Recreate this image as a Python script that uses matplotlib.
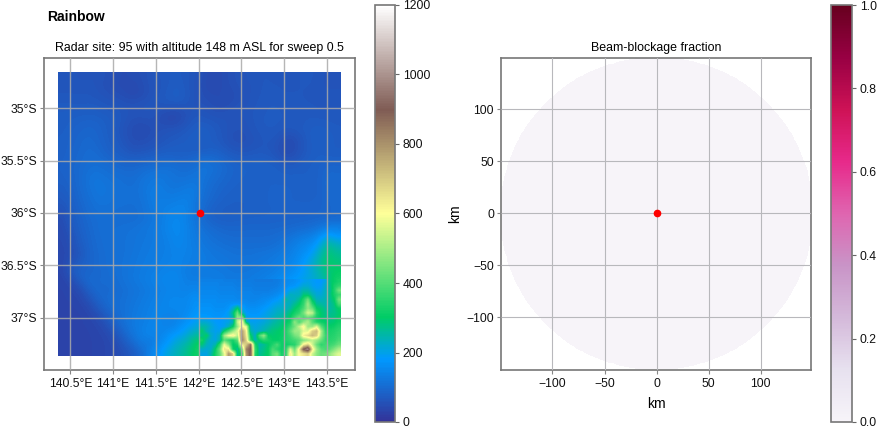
import numpy as np
import matplotlib
matplotlib.use("Agg")
import matplotlib.pyplot as plt

plt.rcParams['font.family'] = ['Liberation Sans', 'DejaVu Sans']

# terrain height in metres on a coarse grid, north to south
dem = [
    [62,62,60,60,62,55,50,45,50,52,60,66,70,72,68,62,50,42,45,55,58,62,64,66,62,62,64,66,68,62,60,58],
    [62,62,62,62,60,52,46,44,42,50,58,64,70,76,68,60,46,42,46,52,58,60,62,68,66,64,64,66,66,62,60,60],
    [66,66,66,66,62,58,54,48,42,48,58,66,74,80,70,60,50,46,48,48,54,60,64,68,70,66,66,66,64,62,62,62],
    [70,70,68,70,68,64,62,58,56,60,64,68,70,72,68,60,54,50,44,50,56,60,66,70,70,68,68,66,66,64,64,64],
    [76,76,76,78,76,72,70,64,60,62,62,54,48,46,56,62,64,56,56,60,62,64,68,70,72,70,68,68,68,66,66,66],
    [76,80,84,86,84,78,72,62,54,52,56,50,42,44,58,70,68,66,62,60,58,62,68,72,72,70,70,68,72,72,70,68],
    [78,84,88,92,88,80,70,58,48,46,50,56,60,62,68,76,80,72,66,58,56,60,66,70,70,66,66,70,76,78,76,72],
    [80,86,92,96,90,82,72,60,50,48,54,60,66,70,76,80,80,74,66,56,50,56,62,68,66,52,48,62,76,80,78,74],
    [80,88,94,100,94,84,76,66,56,58,62,68,74,78,76,70,72,78,72,62,60,60,64,66,60,46,44,60,74,80,76,74],
    [82,90,96,102,100,90,84,76,72,74,78,84,86,80,82,90,96,94,88,76,70,70,74,72,66,52,52,66,76,80,78,78],
    [84,92,98,106,108,102,98,92,92,96,100,104,108,104,100,104,116,110,100,92,86,84,84,84,80,72,72,76,80,84,90,90],
    [84,90,100,112,116,110,106,102,100,110,118,120,118,110,108,116,116,108,98,90,86,84,84,84,84,80,80,80,80,84,96,94],
    [80,88,100,114,122,116,112,108,106,116,124,128,118,116,120,124,112,100,92,88,84,82,82,84,84,84,84,82,80,84,100,98],
    [74,84,98,110,120,118,112,110,108,116,130,132,124,124,132,130,108,96,88,84,80,80,80,84,86,86,84,84,80,84,96,98],
    [68,80,94,106,116,116,110,110,108,112,128,132,132,136,140,124,102,92,84,80,80,80,82,84,86,86,84,84,84,86,94,96],
    [58,76,90,102,110,110,108,106,106,110,124,134,140,146,144,122,96,84,78,78,78,80,82,84,84,84,86,86,86,88,92,96],
    [48,72,86,98,104,106,104,104,104,108,118,130,146,154,140,118,96,84,80,80,82,84,84,84,86,86,88,88,90,92,92,96],
    [44,66,84,94,104,108,108,110,112,118,124,134,148,156,144,124,108,98,92,90,90,92,92,92,92,94,96,100,104,114,134,134],
    [42,56,80,92,102,106,108,112,116,120,124,132,142,154,142,128,116,108,102,98,98,98,98,98,100,106,116,128,136,156,205,175],
    [40,52,74,90,100,106,108,112,116,122,126,132,138,150,142,132,122,114,110,106,104,104,104,104,108,118,132,148,158,196,275,235],
    [38,48,66,88,98,104,108,112,118,124,128,134,138,144,140,134,128,122,118,114,112,112,114,118,122,130,140,160,180,228,295,265],
    [38,60,74,90,98,104,108,114,120,126,130,136,140,144,138,132,128,124,122,118,116,116,118,122,128,138,150,170,208,255,305,285],
    [36,70,90,90,96,102,108,114,122,128,134,140,146,146,132,126,126,128,126,122,120,122,126,130,136,148,160,180,208,245,285,305],
    [34,44,78,100,98,100,106,114,122,130,138,146,152,150,136,134,136,134,130,126,126,128,132,140,150,165,180,195,208,226,265,325],
    [32,36,48,84,100,95,100,108,115,122,130,138,146,146,140,150,134,128,124,122,124,128,136,150,170,190,210,230,230,250,300,370],
    [32,34,38,60,90,100,105,110,118,126,134,142,150,152,150,170,150,140,138,140,142,148,160,180,210,230,260,340,300,280,320,330],
    [30,32,34,42,70,95,105,112,122,130,138,146,152,154,150,170,170,175,180,170,200,180,170,190,230,260,320,460,380,300,290,280],
    [28,30,32,36,48,72,98,112,124,132,140,148,140,145,160,180,190,200,190,200,500,300,190,200,240,280,400,420,480,420,310,290],
    [28,30,32,34,38,54,84,108,126,135,145,150,135,150,175,195,220,260,230,280,640,480,200,210,250,280,310,500,580,620,480,320],
    [30,30,30,32,36,40,62,92,120,138,150,140,165,180,205,250,250,230,480,560,780,640,240,300,280,290,320,420,620,640,520,360],
    [30,30,30,32,34,38,46,72,100,130,120,155,180,225,240,300,330,260,520,400,600,720,450,280,310,400,470,620,480,620,480,450],
    [30,30,30,32,34,38,44,54,75,100,145,175,215,240,270,310,340,400,640,340,350,720,780,300,300,460,560,640,960,640,520,560],
]
dem_lon = [140.354, 143.665]
dem_lat = [-37.367, -34.655]

# finer patch over the hills in the south east
hills = [
    [140,140,140,140,140,135,135,135,130,130,130,130,126,126,126,126,126,130,140,155,160,165,175,190,200,190,180,180,205,285,305,325],
    [145,145,145,145,140,140,140,140,135,135,135,135,130,130,130,130,130,135,145,160,170,175,195,215,215,195,185,190,225,275,325,355],
    [150,150,150,150,145,145,145,145,140,140,140,140,135,135,135,135,140,145,155,175,200,210,220,245,245,215,200,200,235,265,335,435],
    [155,155,155,155,150,150,150,150,145,145,145,145,140,140,145,145,150,160,170,200,235,230,230,285,285,245,215,215,235,275,325,365],
    [160,160,160,160,155,155,155,155,150,150,150,145,145,150,155,160,170,180,195,255,225,235,265,335,425,285,235,230,245,265,305,435],
    [165,165,165,160,160,160,165,170,175,165,160,155,155,160,165,175,190,200,210,230,235,265,295,355,485,345,265,255,245,255,285,385],
    [170,170,170,165,165,165,175,225,305,200,170,165,165,170,180,190,205,220,225,235,255,295,325,385,475,425,305,285,265,255,275,305],
    [175,175,175,170,170,175,195,275,425,245,185,175,175,180,190,205,215,230,240,255,285,325,355,435,555,525,345,295,275,265,275,295],
    [185,185,180,175,175,185,195,245,475,475,200,185,185,190,200,210,230,245,255,275,305,365,425,385,425,385,325,295,285,275,285,305],
    [220,215,200,185,180,190,200,235,525,665,255,195,195,200,210,225,245,260,275,295,325,465,385,465,505,405,335,315,300,285,295,315],
    [255,245,215,195,185,195,235,305,475,625,565,225,205,215,230,245,265,275,290,315,365,435,525,615,485,485,565,405,325,305,315,335],
    [295,240,210,195,195,305,385,475,565,785,625,245,215,225,245,265,285,295,305,335,405,485,485,565,565,685,725,505,345,325,335,355],
    [275,305,225,200,235,485,585,625,525,805,645,305,225,385,475,305,295,300,305,335,375,435,465,625,665,725,685,485,365,335,345,365],
    [325,255,215,205,245,405,355,325,405,835,685,345,235,305,345,325,305,300,315,335,355,375,405,455,485,525,485,425,355,345,355,385],
    [285,235,215,245,355,585,465,295,325,625,705,865,335,245,265,295,335,385,315,315,335,345,425,625,685,545,425,355,375,365,385,425],
    [225,215,225,305,425,645,625,315,265,405,825,905,365,255,275,305,385,345,315,335,565,425,625,905,1005,645,485,405,385,405,455,505],
    [205,205,245,325,405,565,785,685,275,325,785,925,345,265,285,305,405,445,325,345,625,485,605,645,685,545,465,425,435,475,525,565],
]
hills_lon = [142.016, 143.665]
hills_lat = [-37.367, -36.64]

site_lon = 142.02
site_lat = -36.0

lon_ticks = [140.5, 141, 141.5, 142, 142.5, 143, 143.5]
lon_labels = ['140.5°E', '141°E', '141.5°E', '142°E', '142.5°E', '143°E', '143.5°E']
lat_ticks = [-35, -35.5, -36, -36.5, -37]
lat_labels = ['35°S', '35.5°S', '36°S', '36.5°S', '37°S']

# polar sweep, nothing is blocked so every gate is zero
ranges = np.arange(0, 151, 5)
azimuths = np.arange(0, 361, 2)
blockage = np.zeros((len(azimuths) - 1, len(ranges) - 1))

km_ticks = [-100, -50, 0, 50, 100]

W, H = 878, 428
fig = plt.figure(figsize=(W / 100, H / 100), dpi=100)

def add_box(x0, y0, x1, y1):
    return fig.add_axes([x0 / W, 1 - y1 / H, (x1 - x0) / W, (y1 - y0) / H])

ax1 = add_box(44, 58, 355, 370)
im = ax1.imshow(dem, extent=[dem_lon[0], dem_lon[1], dem_lat[0], dem_lat[1]],
                cmap='terrain', vmin=0, vmax=1200, interpolation='bicubic', aspect='auto')
ax1.imshow(hills, extent=[hills_lon[0], hills_lon[1], hills_lat[0], hills_lat[1]],
           cmap='terrain', vmin=0, vmax=1200, interpolation='bilinear', aspect='auto')
ax1.set_xlim(140.19, 143.83)
ax1.set_ylim(-37.5, -34.52)
ax1.set_xticks(lon_ticks)
ax1.set_xticklabels(lon_labels)
ax1.set_yticks(lat_ticks)
ax1.set_yticklabels(lat_labels)
ax1.plot(site_lon, site_lat, 'o', color='red', ms=4.5, zorder=5)
ax1.set_title('Radar site: 95 with altitude 148 m ASL for sweep 0.5', fontsize=8.95, pad=5)

ax2 = add_box(501, 58, 811, 370)
az = np.deg2rad(azimuths)
xx = np.outer(np.sin(az), ranges)
yy = np.outer(np.cos(az), ranges)
mesh = ax2.pcolormesh(xx, yy, blockage, cmap='PuRd', vmin=0, vmax=1, shading='flat')
ax2.set_xlim(-149.5, 148.5)
ax2.set_ylim(-150.5, 149.5)
ax2.set_xticks(km_ticks)
ax2.set_yticks(km_ticks)
ax2.set_xlabel('km', fontsize=10, labelpad=5)
ax2.set_ylabel('km', fontsize=10)
ax2.yaxis.set_label_coords(-0.126, 0.5)
ax2.plot(0, 0, 'o', color='red', ms=4.5, zorder=5)
ax2.set_title('Beam-blockage fraction', fontsize=8.95, pad=5)

for ax in (ax1, ax2):
    ax.set_axisbelow(False)
    ax.tick_params(labelsize=8.7, length=3, width=0.8, pad=3, color='#888888', labelcolor='#111111')
    ax.tick_params(axis='y', pad=2)
    for s in ax.spines.values():
        s.set_color('#777777')
        s.set_linewidth(1.2)
ax1.grid(True, color='#aaaaaa', alpha=0.85, lw=1)
ax2.grid(True, color='#b8b8bc', lw=0.8)

cax1 = add_box(375, 5, 395, 422)
cb1 = fig.colorbar(im, cax=cax1)
cb1.set_ticks([0, 200, 400, 600, 800, 1000, 1200])
cax2 = add_box(831, 5, 852, 422)
cb2 = fig.colorbar(mesh, cax=cax2)
cb2.set_ticks([0, 0.2, 0.4, 0.6, 0.8, 1.0])
for cb in (cb1, cb2):
    cb.ax.tick_params(labelsize=8.7, length=3, width=0.8, pad=2.5, color='#666666', labelcolor='#111111')
    cb.outline.set_edgecolor('#777777')
    cb.outline.set_linewidth(1.2)

fig.text(47 / W, 1 - 17 / H, 'Rainbow', fontsize=10, fontweight='bold', va='center', ha='left')

fig.savefig('out.png', dpi=100)
